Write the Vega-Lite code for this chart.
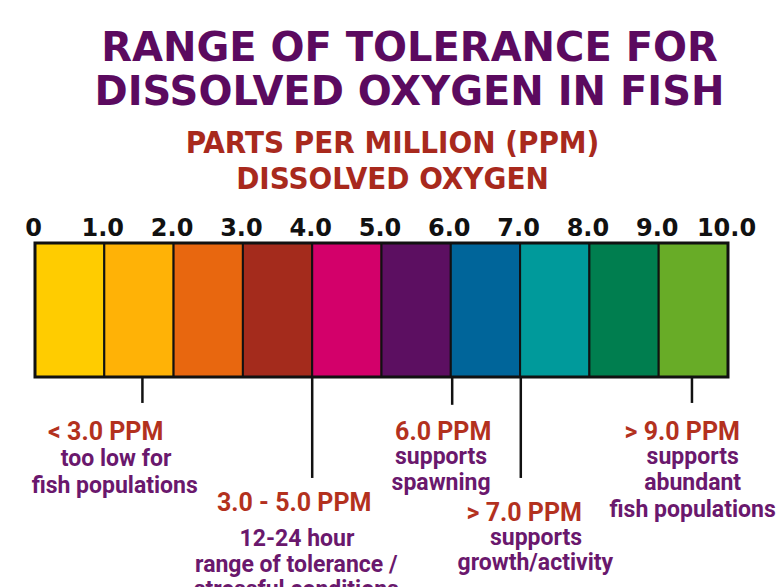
{
  "$schema": "https://vega.github.io/schema/vega-lite/v6.json",
  "autosize": "none",
  "width": 693,
  "height": 344,
  "padding": {"left": 35, "top": 243, "right": 55, "bottom": 0},
  "background": "white",
  "title": {
    "text": ["RANGE OF TOLERANCE FOR", "DISSOLVED OXYGEN IN FISH"],
    "font": "DejaVu Sans",
    "fontWeight": "bold",
    "fontSize": 40,
    "lineHeight": 44,
    "color": "#5B0A5F",
    "anchor": "middle",
    "dx": 28,
    "offset": 14
  },
  "config": {"view": {"stroke": null}},
  "resolve": {"scale": {"color": "independent"}},
  "datasets": {
    "bands": [
      {"lo": 0, "hi": 1, "band": "0-1"},
      {"lo": 1, "hi": 2, "band": "1-2"},
      {"lo": 2, "hi": 3, "band": "2-3"},
      {"lo": 3, "hi": 4, "band": "3-4"},
      {"lo": 4, "hi": 5, "band": "4-5"},
      {"lo": 5, "hi": 6, "band": "5-6"},
      {"lo": 6, "hi": 7, "band": "6-7"},
      {"lo": 7, "hi": 8, "band": "7-8"},
      {"lo": 8, "hi": 9, "band": "8-9"},
      {"lo": 9, "hi": 10, "band": "9-10"}
    ],
    "leaders": [
      {"ppm": 1.55, "end": 5.97},
      {"ppm": 4.0, "end": 8.77},
      {"ppm": 6.02, "end": 6.04},
      {"ppm": 7.01, "end": 8.77},
      {"ppm": 9.48, "end": 5.97}
    ],
    "notes": [
      {"ppm": 1.02, "level": 7.05, "kind": "head", "text": "< 3.0 PPM"},
      {"ppm": 1.17, "level": 8.06, "kind": "body", "text": "too low for"},
      {"ppm": 1.15, "level": 9.07, "kind": "body", "text": "fish populations"},
      {"ppm": 3.74, "level": 9.69, "kind": "head", "text": "3.0 - 5.0 PPM"},
      {"ppm": 3.78, "level": 11.04, "kind": "body", "text": "12-24 hour"},
      {"ppm": 3.77, "level": 12.01, "kind": "body", "text": "range of tolerance /"},
      {"ppm": 3.77, "level": 12.95, "kind": "body", "text": "stressful conditions"},
      {"ppm": 5.89, "level": 7.04, "kind": "head", "text": "6.0 PPM"},
      {"ppm": 5.86, "level": 7.99, "kind": "body", "text": "supports"},
      {"ppm": 5.86, "level": 8.96, "kind": "body", "text": "spawning"},
      {"ppm": 7.06, "level": 10.06, "kind": "head", "text": "> 7.0 PPM"},
      {"ppm": 7.23, "level": 11.01, "kind": "body", "text": "supports"},
      {"ppm": 7.22, "level": 11.94, "kind": "body", "text": "growth/activity"},
      {"ppm": 9.34, "level": 7.04, "kind": "head", "text": "> 9.0 PPM"},
      {"ppm": 9.49, "level": 7.99, "kind": "body", "text": "supports"},
      {"ppm": 9.49, "level": 8.96, "kind": "body", "text": "abundant"},
      {"ppm": 9.49, "level": 9.96, "kind": "body", "text": "fish populations"}
    ]
  },
  "layer": [
    {
      "data": {"name": "bands"},
      "mark": {"type": "rect", "stroke": "#111111", "strokeWidth": 2},
      "encoding": {
        "x": {
          "field": "lo",
          "type": "quantitative",
          "scale": {"domain": [0, 10], "nice": false, "zero": false},
          "axis": {
            "orient": "top",
            "values": [0, 1, 2, 3, 4, 5, 6, 7, 8, 9, 10],
            "labelExpr": "datum.value == 0 ? '0' : format(datum.value, '.1f')",
            "labelFont": "DejaVu Sans",
            "labelFontWeight": "bold",
            "labelFontSize": 24,
            "labelColor": "#111111",
            "labelPadding": 3,
            "labelOffset": -2,
            "labelFlush": false,
            "labelOverlap": false,
            "ticks": false,
            "tickSize": 0,
            "domain": false,
            "grid": false,
            "title": ["PARTS PER MILLION (PPM)", "DISSOLVED OXYGEN"],
            "titleFont": "Liberation Sans Narrow, DejaVu Sans Condensed, sans-serif",
            "titleFontWeight": "bold",
            "titleFontSize": 31,
            "titleLineHeight": 36,
            "titleColor": "#A8291D",
            "titlePadding": 21,
            "titleX": 357,
            "titleAlign": "center"
          }
        },
        "x2": {"field": "hi"},
        "y": {
          "datum": 0,
          "type": "quantitative",
          "scale": {"domain": [0, 12.84], "reverse": true, "nice": false, "zero": false},
          "axis": null
        },
        "y2": {"datum": 5},
        "color": {
          "field": "band",
          "type": "nominal",
          "scale": {
            "domain": ["0-1", "1-2", "2-3", "3-4", "4-5", "5-6", "6-7", "7-8", "8-9", "9-10"],
            "range": ["#FFCC00", "#FFB206", "#E8670F", "#A42B1C", "#D3006A", "#5C0F61", "#00659A", "#009A9B", "#007E4F", "#68AC27"]
          },
          "legend": null
        }
      }
    },
    {
      "data": {"values": [{"lo": 0, "hi": 10}]},
      "mark": {"type": "rect", "fill": null, "stroke": "#111111", "strokeWidth": 3},
      "encoding": {
        "x": {"field": "lo", "type": "quantitative"},
        "x2": {"field": "hi"},
        "y": {"datum": 0, "type": "quantitative"},
        "y2": {"datum": 5}
      }
    },
    {
      "data": {"name": "leaders"},
      "mark": {"type": "rule", "color": "#111111", "strokeWidth": 2.5},
      "encoding": {
        "x": {"field": "ppm", "type": "quantitative"},
        "y": {"field": "end", "type": "quantitative"},
        "y2": {"datum": 5}
      }
    },
    {
      "data": {"name": "notes"},
      "mark": {"type": "text", "font": "Roboto", "fontWeight": "bold", "align": "center", "baseline": "middle"},
      "encoding": {
        "x": {"field": "ppm", "type": "quantitative"},
        "y": {"field": "level", "type": "quantitative"},
        "text": {"field": "text"},
        "color": {
          "field": "kind",
          "type": "nominal",
          "scale": {"domain": ["head", "body"], "range": ["#B3311E", "#6A186D"]},
          "legend": null
        },
        "size": {
          "field": "kind",
          "type": "nominal",
          "scale": {"domain": ["head", "body"], "range": [25, 23]},
          "legend": null
        }
      }
    }
  ]
}
